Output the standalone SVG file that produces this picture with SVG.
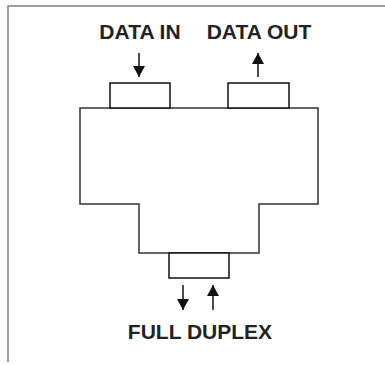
<svg xmlns="http://www.w3.org/2000/svg" width="385" height="365" viewBox="0 0 385 365">
<style>
.frame{fill:none;stroke:#808080;stroke-width:1.5}
.body{fill:none;stroke:#333;stroke-width:1.5}
.box{fill:#fff;stroke:#111;stroke-width:1.5}
.lbl{font-family:"Liberation Sans",Arial,sans-serif;font-weight:bold;font-size:21px;fill:#222;text-anchor:middle}
.ln{stroke:#111;stroke-width:1.5;fill:none}
</style>
<defs>
<marker id="ah" markerWidth="13" markerHeight="13" refX="11" refY="6" orient="auto" markerUnits="userSpaceOnUse">
<path d="M0,0 L11,6 L0,12 Z" fill="#111"/>
</marker>
</defs>
<path class="frame" d="M8,362 V6 H385"/>
<g id="device">
<path class="body" d="M80,108 H318 V204 H259 V253 H139 V204 H80 Z"/>
</g>
<g id="data-in-port"><rect class="box" x="110" y="83" width="60" height="25"/></g>
<g id="data-out-port"><rect class="box" x="228" y="83" width="61" height="25"/></g>
<g id="duplex-port"><rect class="box" x="169" y="253" width="60" height="25"/></g>
<g id="labels">
<text class="lbl" x="140" y="39">DATA IN</text>
<text class="lbl" x="259" y="39">DATA OUT</text>
<text class="lbl" x="200" y="339">FULL DUPLEX</text>
</g>
<g id="connectors">
<path class="ln" d="M139,53 V77" marker-end="url(#ah)"/>
<path class="ln" d="M258,77 V53" marker-end="url(#ah)"/>
<path class="ln" d="M183,285 V310" marker-end="url(#ah)"/>
<path class="ln" d="M213,310 V285" marker-end="url(#ah)"/>
</g>
</svg>
